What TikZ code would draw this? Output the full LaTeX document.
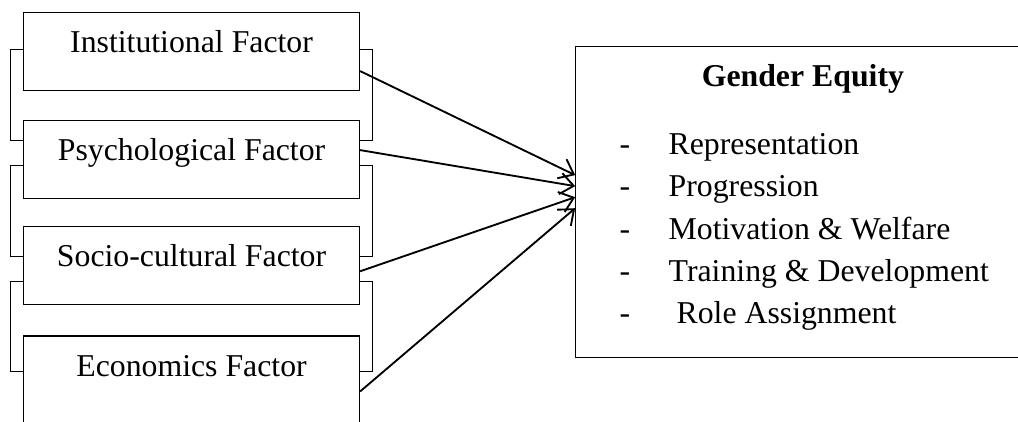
\documentclass[tikz,border=0pt]{standalone}
\usepackage{fontspec}
\setmainfont{Liberation Serif}
\usetikzlibrary{positioning,arrows.meta}

\tikzset{
  factor/.style={draw, line width=0.4pt, inner sep=0pt, minimum width=4.46cm,
    text height=0.531cm, text depth=0.504cm, font=\fontsize{12}{14}\selectfont},
  link/.style={line width=0.4pt},
  arrow/.style={line width=0.7pt, -{Straight Barb[length=5pt,width=8pt]}},
  item/.style={anchor=base west, inner sep=0pt, font=\fontsize{12}{14}\selectfont}
}

\newcommand{\eqitem}[1]{\makebox[18.5pt][l]{-}#1}

\begin{document}
\begin{tikzpicture}

\useasboundingbox (0,0) rectangle (13.51,5.59);
\clip (0,0) rectangle (13.51,5.59);

% factor boxes, stacked on the left
\node[factor, anchor=north west] (inst) at (0.305,5.43) {Institutional Factor};
\node[factor, below=0.385cm of inst] (psy) {Psychological Factor};
\node[factor, below=0.36cm of psy] (socio) {Socio-cultural Factor};
\node[factor, below=0.4cm of socio, text depth=1.4cm] (econ) {Economics Factor};

% outcome box
\node[factor, anchor=north west, minimum width=6.03cm, text depth=3.6cm,
  font=\fontsize{12}{14}\selectfont\bfseries] (equity) at (7.633,4.978) {Gender Equity};

\foreach \txt [count=\i] in {Representation, Progression, Motivation \& Welfare,
    Training \& Development, {\ Role Assignment}}
  \node[item] (item\i) at ([xshift=0.584cm, yshift={-1.44cm-(\i-1)*0.56cm}]equity.north west) {\eqitem{\txt}};

% elbow links on the left
\draw[link] ([yshift=-0.491cm]inst.north west) -- ++(-0.16,0) |- ([yshift=-0.266cm]psy.north west);
\draw[link] ([yshift=-0.597cm]psy.north west) -- ++(-0.16,0) |- ([yshift=-0.398cm]socio.north west);
\draw[link] ([yshift=-0.730cm]socio.north west) -- ++(-0.16,0) |- ([yshift=-0.478cm]econ.north west);

% and on the right
\draw[link] ([yshift=-0.491cm]inst.north east) -- ++(0.16,0) |- ([yshift=-0.266cm]psy.north east);
\draw[link] ([yshift=-0.597cm]psy.north east) -- ++(0.16,0) |- ([yshift=-0.398cm]socio.north east);
\draw[link] ([yshift=-0.730cm]socio.north east) -- ++(0.16,0) |- ([yshift=-0.478cm]econ.north east);

% arrows into gender equity
\draw[arrow] ([yshift=-0.783cm]inst.north east) -- ([yshift=-1.712cm]equity.north west);
\draw[arrow] ([yshift=-0.398cm]psy.north east) -- ([yshift=-1.858cm]equity.north west);
\draw[arrow] ([yshift=-0.597cm]socio.north east) -- ([yshift=-2.005cm]equity.north west);
\draw[arrow] ([yshift=-0.743cm]econ.north east) -- ([yshift=-2.151cm]equity.north west);

\end{tikzpicture}
\end{document}
